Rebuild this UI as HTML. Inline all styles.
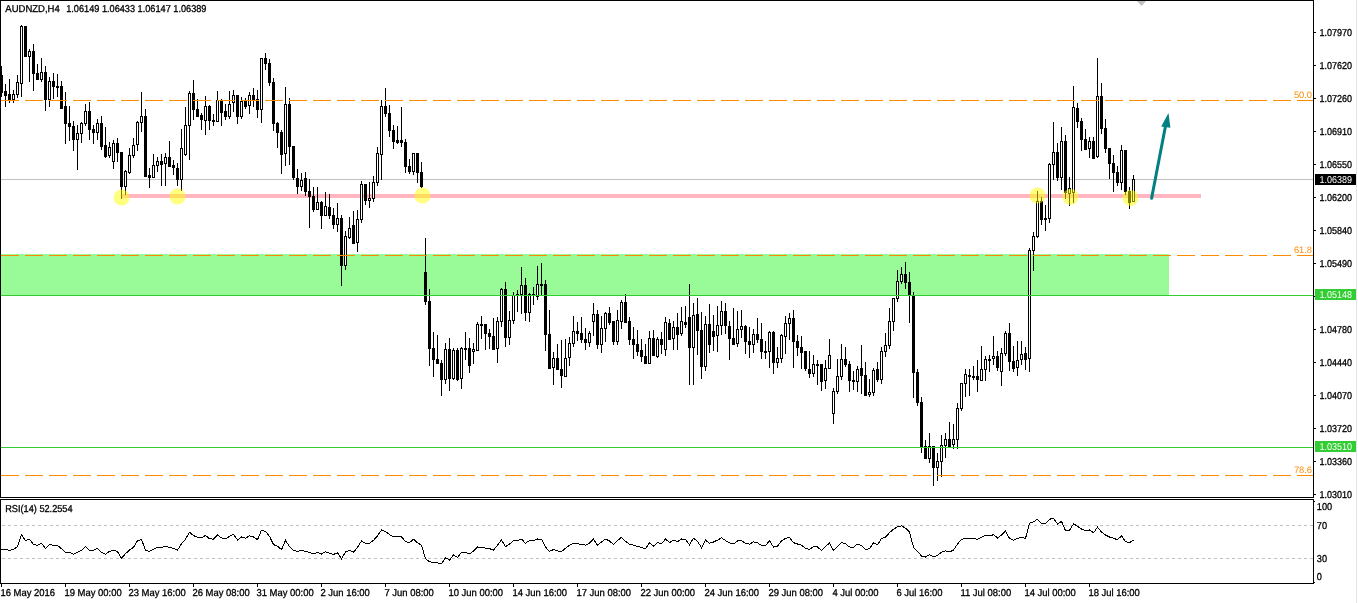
<!DOCTYPE html><html><head><meta charset="utf-8"><style>html,body{margin:0;padding:0;background:#fff;width:1358px;height:603px;overflow:hidden}svg{display:block}text{font-family:"Liberation Sans",Arial,sans-serif;font-size:9.3px;fill:#000;shape-rendering:auto;text-rendering:geometricPrecision;stroke:#000;stroke-width:0.3px}</style></head><body><svg width="1358" height="603" viewBox="0 0 1358 603" shape-rendering="crispEdges"><rect x="0" y="0" width="1358" height="603" fill="#fff"/><rect x="1" y="254" width="1168" height="41" fill="#98FB98"/><rect x="122" y="194" width="1079" height="4" fill="#FFB6C1"/><rect x="1" y="179" width="1312" height="1" fill="#C0C0C0"/><path d="M1 66V97M5 84V107M9 79V103M13 90V103M17 75V98M21 25V97M25 26V57M29 49V82M33 44V91M37 64V80M41 58V82M45 66V111M49 77V107M53 73V99M57 74V97M61 81V109M65 92V144M69 106V141M73 121V151M77 125V170M81 122V143M85 104V126M89 102V140M93 125V144M97 119V140M101 116V150M105 127V158M109 142V158M113 140V169M117 138V162M121 152V199M125 170V195M129 148V174M133 138V158M137 121V151M141 92V132M145 109V177M149 168V188M153 154V178M157 157V172M161 154V186M165 153V186M169 141V167M173 160V175M177 163V186M181 129V191M185 107V156M189 91V160M193 80V120M197 99V117M201 113V130M205 96V135M209 105V130M213 114V126M217 91V122M221 99V126M225 104V120M229 91V119M233 90V112M237 95V124M241 97V119M245 98V109M249 92V114M253 88V107M257 90V118M261 58V123M265 53V70M269 59V86M273 78V131M277 122V148M281 130V174M285 87V166M289 98V165M293 146V180M297 169V194M301 173V191M305 172V196M309 179V228M313 187V212M317 187V210M321 201V229M325 192V216M329 194V219M333 208V229M337 203V232M341 215V286M345 231V270M349 217V239M353 211V244M357 210V252M361 181V223M365 184V205M369 182V208M373 176V202M377 147V186M381 100V180M385 88V117M389 105V137M393 125V149M397 126V144M401 107V147M405 139V173M409 159V174M413 153V175M417 153V183M421 162V188M425 238V305M429 289V366M433 332V377M437 335V364M441 360V396M445 343V384M449 338V391M453 348V380M457 348V381M461 347V389M465 332V360M469 338V373M473 343V364M477 322V351M481 316V339M485 324V350M489 329V349M493 318V350M497 317V363M501 288V327M505 282V347M509 311V345M513 292V324M517 290V312M521 267V314M525 278V321M529 293V322M533 287V305M537 266V300M541 263V296M545 280V351M549 310V369M553 352V385M557 344V370M561 340V388M565 339V377M569 337V366M573 316V347M577 322V341M581 317V343M585 328V350M589 331V347M593 303V336M597 310V349M601 316V353M605 312V342M609 307V325M613 321V345M617 310V345M621 300V329M625 294V323M629 317V345M633 327V359M637 330V356M641 339V362M645 344V364M649 331V364M653 330V356M657 337V358M661 332V354M665 317V356M669 319V340M673 321V350M677 313V350M681 307V336M685 306V328M689 284V385M693 303V385M697 298V355M701 312V379M705 316V371M709 304V353M713 315V351M717 306V352M721 301V335M725 303V334M729 321V360M733 308V345M737 311V347M741 310V338M745 325V354M749 327V358M753 329V353M757 318V343M761 323V359M765 341V359M769 331V368M773 331V374M777 347V368M781 334V363M785 316V354M789 313V340M793 310V368M797 335V356M801 336V369M805 351V371M809 351V378M813 355V377M817 360V385M821 364V391M825 360V389M829 339V369M833 388V424M837 359V394M841 344V380M845 347V367M849 361V392M853 371V390M857 366V392M861 345V394M865 362V396M869 379V397M873 368V396M877 362V382M881 347V384M885 333V357M889 308V349M893 298V331M897 270V302M901 267V284M905 262V289M909 272V323M913 292V398M917 369V406M921 397V453M925 440V459M929 433V463M933 446V486M937 453V481M941 435V477M945 433V458M949 422V448M953 424V449M957 403V449M961 383V411M965 369V397M969 369V396M973 366V380M977 360V392M981 346V381M985 356V381M989 355V372M993 336V365M997 351V371M1001 348V386M1005 331V356M1009 323V371M1013 346V372M1017 341V376M1021 341V365M1025 347V370M1029 248V372M1033 232V271M1037 191V238M1041 197V225M1045 205V231M1049 163V223M1053 122V180M1057 143V181M1061 127V190M1065 135V199M1069 177V206M1073 86V203M1077 103V128M1081 118V151M1085 129V150M1089 137V158M1093 137V159M1097 58V158M1101 83V134M1105 119V153M1109 148V179M1113 155V192M1117 166V186M1121 145V190M1125 150V195M1129 187V209M1133 175V202" stroke="#000" stroke-width="1" fill="none" transform="translate(0.5,0)"/><path d="M0 75h3v18h-3zM4 91h3v5h-3zM8 94h3v7h-3zM12 94h3v6h-3zM16 82h3v13h-3zM20 26h3v58h-3zM24 26h3v31h-3zM28 51h3v6h-3zM32 51h3v23h-3zM36 73h3v7h-3zM40 72h3v8h-3zM44 72h3v28h-3zM48 81h3v19h-3zM52 81h3v6h-3zM56 86h3v2h-3zM60 86h3v23h-3zM64 106h3v18h-3zM68 123h3v4h-3zM72 126h3v14h-3zM76 133h3v7h-3zM80 123h3v11h-3zM84 111h3v13h-3zM88 111h3v19h-3zM92 129h3v4h-3zM96 123h3v10h-3zM100 123h3v24h-3zM104 145h3v12h-3zM108 147h3v9h-3zM112 143h3v19h-3zM116 143h3v10h-3zM120 152h3v35h-3zM124 171h3v16h-3zM128 155h3v18h-3zM132 145h3v11h-3zM136 122h3v23h-3zM140 116h3v7h-3zM144 116h3v61h-3zM148 175h3v3h-3zM152 165h3v13h-3zM156 161h3v5h-3zM160 161h3v4h-3zM164 157h3v7h-3zM168 157h3v10h-3zM172 165h3v3h-3zM176 168h3v12h-3zM180 148h3v32h-3zM184 125h3v30h-3zM188 93h3v33h-3zM192 93h3v17h-3zM196 109h3v8h-3zM200 115h3v5h-3zM204 106h3v15h-3zM208 106h3v15h-3zM212 120h3v2h-3zM216 100h3v22h-3zM220 100h3v13h-3zM224 111h3v6h-3zM228 104h3v13h-3zM232 95h3v8h-3zM236 95h3v22h-3zM240 101h3v16h-3zM244 101h3v6h-3zM248 95h3v11h-3zM252 95h3v5h-3zM256 99h3v11h-3zM260 58h3v52h-3zM264 58h3v6h-3zM268 63h3v20h-3zM272 82h3v42h-3zM276 123h3v10h-3zM280 132h3v23h-3zM284 104h3v50h-3zM288 104h3v43h-3zM292 146h3v32h-3zM296 178h3v9h-3zM300 180h3v7h-3zM304 178h3v14h-3zM308 191h3v6h-3zM312 196h3v14h-3zM316 202h3v8h-3zM320 202h3v14h-3zM324 206h3v10h-3zM328 207h3v9h-3zM332 215h3v10h-3zM336 218h3v7h-3zM340 218h3v48h-3zM344 236h3v30h-3zM348 228h3v10h-3zM352 225h3v19h-3zM356 219h3v24h-3zM360 184h3v36h-3zM364 184h3v17h-3zM368 198h3v3h-3zM372 182h3v17h-3zM376 153h3v30h-3zM380 106h3v49h-3zM384 106h3v8h-3zM388 113h3v18h-3zM392 130h3v12h-3zM396 140h3v3h-3zM400 140h3v3h-3zM404 142h3v25h-3zM408 166h3v6h-3zM412 153h3v19h-3zM416 153h3v20h-3zM420 172h3v15h-3zM424 272h3v30h-3zM428 301h3v48h-3zM432 348h3v12h-3zM436 359h3v5h-3zM440 363h3v17h-3zM444 349h3v31h-3zM448 349h3v30h-3zM452 350h3v29h-3zM456 350h3v30h-3zM460 348h3v31h-3zM464 348h3v2h-3zM468 348h3v18h-3zM472 349h3v3h-3zM476 324h3v27h-3zM480 324h3v2h-3zM484 324h3v10h-3zM488 333h3v4h-3zM492 336h3v14h-3zM496 321h3v28h-3zM500 289h3v33h-3zM504 289h3v49h-3zM508 320h3v18h-3zM512 295h3v26h-3zM516 294h3v2h-3zM520 285h3v10h-3zM524 285h3v28h-3zM528 294h3v19h-3zM532 294h3v2h-3zM536 284h3v13h-3zM540 284h3v2h-3zM544 284h3v51h-3zM548 334h3v35h-3zM552 358h3v10h-3zM556 358h3v12h-3zM560 369h3v7h-3zM564 358h3v19h-3zM568 343h3v15h-3zM572 331h3v13h-3zM576 331h3v3h-3zM580 333h3v7h-3zM584 339h3v4h-3zM588 333h3v10h-3zM592 314h3v8h-3zM596 314h3v31h-3zM600 328h3v17h-3zM604 313h3v16h-3zM608 313h3v10h-3zM612 321h3v21h-3zM616 320h3v22h-3zM620 302h3v20h-3zM624 302h3v21h-3zM628 321h3v19h-3zM632 339h3v6h-3zM636 344h3v8h-3zM640 350h3v7h-3zM644 356h3v8h-3zM648 338h3v26h-3zM652 338h3v18h-3zM656 339h3v18h-3zM660 339h3v6h-3zM664 322h3v28h-3zM668 323h3v17h-3zM672 327h3v12h-3zM676 327h3v8h-3zM680 321h3v13h-3zM684 322h3v3h-3zM688 317h3v31h-3zM692 315h3v33h-3zM696 314h3v17h-3zM700 330h3v37h-3zM704 324h3v43h-3zM708 324h3v21h-3zM712 331h3v6h-3zM716 325h3v11h-3zM720 311h3v15h-3zM724 311h3v15h-3zM728 326h3v13h-3zM732 338h3v7h-3zM736 329h3v15h-3zM740 326h3v4h-3zM744 326h3v16h-3zM748 341h3v4h-3zM752 334h3v11h-3zM756 334h3v6h-3zM760 339h3v13h-3zM764 351h3v2h-3zM768 332h3v20h-3zM772 332h3v31h-3zM776 358h3v5h-3zM780 335h3v24h-3zM784 323h3v14h-3zM788 318h3v6h-3zM792 318h3v24h-3zM796 341h3v7h-3zM800 347h3v6h-3zM804 351h3v18h-3zM808 369h3v5h-3zM812 364h3v10h-3zM816 364h3v2h-3zM820 364h3v18h-3zM824 368h3v13h-3zM828 355h3v14h-3zM832 391h3v23h-3zM836 376h3v16h-3zM840 359h3v18h-3zM844 359h3v6h-3zM848 364h3v17h-3zM852 380h3v2h-3zM856 369h3v13h-3zM860 368h3v8h-3zM864 375h3v21h-3zM868 392h3v3h-3zM872 370h3v23h-3zM876 369h3v11h-3zM880 351h3v29h-3zM884 345h3v7h-3zM888 321h3v25h-3zM892 298h3v24h-3zM896 281h3v18h-3zM900 274h3v8h-3zM904 274h3v9h-3zM908 282h3v14h-3zM912 295h3v78h-3zM916 372h3v31h-3zM920 402h3v46h-3zM924 446h3v13h-3zM928 446h3v13h-3zM932 446h3v22h-3zM936 461h3v7h-3zM940 445h3v17h-3zM944 439h3v7h-3zM948 439h3v9h-3zM952 439h3v6h-3zM956 408h3v32h-3zM960 383h3v26h-3zM964 374h3v10h-3zM968 375h3v2h-3zM972 376h3v2h-3zM976 376h3v4h-3zM980 369h3v12h-3zM984 359h3v11h-3zM988 359h3v2h-3zM992 356h3v3h-3zM996 356h3v12h-3zM1000 353h3v19h-3zM1004 333h3v21h-3zM1008 333h3v29h-3zM1012 361h3v8h-3zM1016 360h3v8h-3zM1020 354h3v6h-3zM1024 353h3v7h-3zM1028 250h3v109h-3zM1032 236h3v15h-3zM1036 201h3v36h-3zM1040 201h3v19h-3zM1044 218h3v2h-3zM1048 164h3v55h-3zM1052 152h3v13h-3zM1056 152h3v26h-3zM1060 141h3v37h-3zM1064 141h3v52h-3zM1068 188h3v6h-3zM1072 107h3v86h-3zM1076 108h3v14h-3zM1080 121h3v19h-3zM1084 139h3v11h-3zM1088 141h3v8h-3zM1092 141h3v18h-3zM1096 96h3v61h-3zM1100 96h3v33h-3zM1104 128h3v21h-3zM1108 148h3v16h-3zM1112 163h3v10h-3zM1116 172h3v11h-3zM1120 150h3v33h-3zM1124 150h3v42h-3zM1128 191h3v12h-3zM1132 179h3v23h-3z" fill="#000"/><path d="M13 95h1v4h-1zM17 83h1v11h-1zM21 27h1v56h-1zM29 52h1v4h-1zM41 73h1v6h-1zM49 82h1v17h-1zM77 134h1v5h-1zM81 124h1v9h-1zM85 112h1v11h-1zM97 124h1v8h-1zM109 148h1v7h-1zM113 144h1v17h-1zM125 172h1v14h-1zM129 156h1v16h-1zM133 146h1v9h-1zM137 123h1v21h-1zM141 117h1v5h-1zM153 166h1v11h-1zM157 162h1v3h-1zM165 158h1v5h-1zM181 149h1v30h-1zM185 126h1v28h-1zM189 94h1v31h-1zM205 107h1v13h-1zM217 101h1v20h-1zM229 105h1v11h-1zM233 96h1v6h-1zM241 102h1v14h-1zM249 96h1v9h-1zM261 59h1v50h-1zM285 105h1v48h-1zM301 181h1v5h-1zM317 203h1v6h-1zM325 207h1v8h-1zM337 219h1v5h-1zM345 237h1v28h-1zM349 229h1v8h-1zM357 220h1v22h-1zM361 185h1v34h-1zM369 199h1v1h-1zM373 183h1v15h-1zM377 154h1v28h-1zM381 107h1v47h-1zM413 154h1v17h-1zM445 350h1v29h-1zM453 351h1v27h-1zM461 349h1v29h-1zM473 350h1v1h-1zM477 325h1v25h-1zM497 322h1v26h-1zM501 290h1v31h-1zM509 321h1v16h-1zM513 296h1v24h-1zM521 286h1v8h-1zM529 295h1v17h-1zM537 285h1v11h-1zM553 359h1v8h-1zM565 359h1v17h-1zM569 344h1v13h-1zM573 332h1v11h-1zM589 334h1v8h-1zM593 315h1v6h-1zM601 329h1v15h-1zM605 314h1v14h-1zM617 321h1v20h-1zM621 303h1v18h-1zM649 339h1v24h-1zM657 340h1v16h-1zM665 323h1v26h-1zM673 328h1v10h-1zM681 322h1v11h-1zM693 316h1v31h-1zM705 325h1v41h-1zM717 326h1v9h-1zM721 312h1v13h-1zM737 330h1v13h-1zM741 327h1v2h-1zM753 335h1v9h-1zM769 333h1v18h-1zM777 359h1v3h-1zM781 336h1v22h-1zM785 324h1v12h-1zM789 319h1v4h-1zM813 365h1v8h-1zM825 369h1v11h-1zM829 356h1v12h-1zM833 392h1v21h-1zM837 377h1v14h-1zM841 360h1v16h-1zM857 370h1v11h-1zM869 393h1v1h-1zM873 371h1v21h-1zM881 352h1v27h-1zM885 346h1v5h-1zM889 322h1v23h-1zM893 299h1v22h-1zM897 282h1v16h-1zM901 275h1v6h-1zM929 447h1v11h-1zM937 462h1v5h-1zM941 446h1v15h-1zM945 440h1v5h-1zM953 440h1v4h-1zM957 409h1v30h-1zM961 384h1v24h-1zM965 375h1v8h-1zM981 370h1v10h-1zM985 360h1v9h-1zM993 357h1v1h-1zM1001 354h1v17h-1zM1005 334h1v19h-1zM1017 361h1v6h-1zM1021 355h1v4h-1zM1029 251h1v107h-1zM1033 237h1v13h-1zM1037 202h1v34h-1zM1049 165h1v53h-1zM1053 153h1v11h-1zM1061 142h1v35h-1zM1069 189h1v4h-1zM1073 108h1v84h-1zM1089 142h1v6h-1zM1097 97h1v59h-1zM1121 151h1v31h-1zM1133 180h1v21h-1z" fill="#fff"/><line x1="1" y1="100.5" x2="1313" y2="100.5" stroke="#FF8C00" stroke-width="1" stroke-dasharray="18 6"/><line x1="1" y1="255.5" x2="1313" y2="255.5" stroke="#FF8C00" stroke-width="1" stroke-dasharray="18 6"/><line x1="1" y1="475.5" x2="1313" y2="475.5" stroke="#FF8C00" stroke-width="1" stroke-dasharray="18 6"/><rect x="1" y="295" width="1312" height="1" fill="#32CD32"/><rect x="1" y="447" width="1312" height="1" fill="#32CD32"/><text x="1312" y="98" text-anchor="end" style="fill:#FF8C00;stroke:none">50.0</text><text x="1312" y="253" text-anchor="end" style="fill:#FF8C00;stroke:none">61.8</text><text x="1312" y="473" text-anchor="end" style="fill:#FF8C00;stroke:none">78.6</text><circle cx="121.5" cy="197.5" r="8" fill="#FFFF00" fill-opacity="0.5" shape-rendering="auto"/><circle cx="177.5" cy="196.5" r="8" fill="#FFFF00" fill-opacity="0.5" shape-rendering="auto"/><circle cx="422.5" cy="195.5" r="8" fill="#FFFF00" fill-opacity="0.5" shape-rendering="auto"/><circle cx="1037.5" cy="195.5" r="8" fill="#FFFF00" fill-opacity="0.5" shape-rendering="auto"/><circle cx="1070.5" cy="197.0" r="8" fill="#FFFF00" fill-opacity="0.5" shape-rendering="auto"/><circle cx="1130.5" cy="198.0" r="8" fill="#FFFF00" fill-opacity="0.5" shape-rendering="auto"/><g shape-rendering="auto"><line x1="1151.6" y1="198.3" x2="1165.5" y2="126" stroke="#008080" stroke-width="3" stroke-linecap="round"/><polygon points="1168.5,113 1161.2,126.5 1170.4,127.8" fill="#008080"/></g><rect x="0" y="0" width="1314" height="1" fill="#000"/><rect x="0" y="0" width="1" height="498" fill="#000"/><rect x="1313" y="0" width="1" height="498" fill="#000"/><rect x="0" y="497" width="1314" height="1" fill="#000"/><rect x="1356" y="0" width="1" height="603" fill="#E3E3E3"/><rect x="1314" y="32" width="2" height="1" fill="#000"/><text x="1319.60" y="36.00" style="font-size:10px;" textLength="32.53" lengthAdjust="spacingAndGlyphs">1.07970</text><rect x="1314" y="65" width="2" height="1" fill="#000"/><text x="1319.60" y="69.00" style="font-size:10px;" textLength="32.53" lengthAdjust="spacingAndGlyphs">1.07620</text><rect x="1314" y="98" width="2" height="1" fill="#000"/><text x="1319.60" y="102.00" style="font-size:10px;" textLength="32.53" lengthAdjust="spacingAndGlyphs">1.07260</text><rect x="1314" y="131" width="2" height="1" fill="#000"/><text x="1319.60" y="135.00" style="font-size:10px;" textLength="32.53" lengthAdjust="spacingAndGlyphs">1.06910</text><rect x="1314" y="164" width="2" height="1" fill="#000"/><text x="1319.60" y="168.00" style="font-size:10px;" textLength="32.53" lengthAdjust="spacingAndGlyphs">1.06550</text><rect x="1314" y="197" width="2" height="1" fill="#000"/><text x="1319.60" y="201.00" style="font-size:10px;" textLength="32.53" lengthAdjust="spacingAndGlyphs">1.06200</text><rect x="1314" y="230" width="2" height="1" fill="#000"/><text x="1319.60" y="234.00" style="font-size:10px;" textLength="32.53" lengthAdjust="spacingAndGlyphs">1.05840</text><rect x="1314" y="263" width="2" height="1" fill="#000"/><text x="1319.60" y="267.00" style="font-size:10px;" textLength="32.53" lengthAdjust="spacingAndGlyphs">1.05490</text><rect x="1314" y="296" width="2" height="1" fill="#000"/><rect x="1314" y="329" width="2" height="1" fill="#000"/><text x="1319.60" y="333.00" style="font-size:10px;" textLength="32.53" lengthAdjust="spacingAndGlyphs">1.04780</text><rect x="1314" y="362" width="2" height="1" fill="#000"/><text x="1319.60" y="366.00" style="font-size:10px;" textLength="32.53" lengthAdjust="spacingAndGlyphs">1.04440</text><rect x="1314" y="395" width="2" height="1" fill="#000"/><text x="1319.60" y="399.00" style="font-size:10px;" textLength="32.53" lengthAdjust="spacingAndGlyphs">1.04070</text><rect x="1314" y="428" width="2" height="1" fill="#000"/><text x="1319.60" y="432.00" style="font-size:10px;" textLength="32.53" lengthAdjust="spacingAndGlyphs">1.03720</text><rect x="1314" y="461" width="2" height="1" fill="#000"/><text x="1319.60" y="465.00" style="font-size:10px;" textLength="32.53" lengthAdjust="spacingAndGlyphs">1.03360</text><rect x="1314" y="494" width="2" height="1" fill="#000"/><text x="1319.60" y="498.00" style="font-size:10px;" textLength="32.53" lengthAdjust="spacingAndGlyphs">1.03010</text><rect x="1315" y="174" width="41" height="11" fill="#000"/><text x="1319.60" y="183.00" style="font-size:10px;fill:#fff;stroke:none" textLength="32.53" lengthAdjust="spacingAndGlyphs">1.06389</text><rect x="1315" y="289" width="41" height="11" fill="#32CD32"/><text x="1319.60" y="298.00" style="font-size:10px;fill:#fff;stroke:none" textLength="32.53" lengthAdjust="spacingAndGlyphs">1.05148</text><rect x="1315" y="441" width="41" height="11" fill="#32CD32"/><text x="1319.60" y="450.00" style="font-size:10px;fill:#fff;stroke:none" textLength="32.53" lengthAdjust="spacingAndGlyphs">1.03510</text><text x="5.30" y="12.00" style="font-size:10px;" textLength="54.50" lengthAdjust="spacingAndGlyphs">AUDNZD,H4</text><text x="66.20" y="12.00" style="font-size:10px;" textLength="140.30" lengthAdjust="spacingAndGlyphs">1.06149 1.06433 1.06147 1.06389</text><rect x="0" y="499" width="1314" height="1" fill="#000"/><rect x="0" y="499" width="1" height="85" fill="#000"/><rect x="1313" y="499" width="1" height="85" fill="#000"/><rect x="0" y="583" width="1314" height="1" fill="#000"/><rect x="1314" y="501" width="1" height="1" fill="#000"/><rect x="1314" y="582" width="1" height="1" fill="#000"/><line x1="2" y1="525.5" x2="1313" y2="525.5" stroke="#C0C0C0" stroke-dasharray="3 3"/><line x1="2" y1="558.5" x2="1313" y2="558.5" stroke="#C0C0C0" stroke-dasharray="3 3"/><text x="5.20" y="512.00" style="font-size:10px;" textLength="67.40" lengthAdjust="spacingAndGlyphs">RSI(14) 52.2554</text><text x="1316.80" y="510.00" style="font-size:10px;" textLength="15.35" lengthAdjust="spacingAndGlyphs">100</text><text x="1316.80" y="529.00" style="font-size:10px;" textLength="10.23" lengthAdjust="spacingAndGlyphs">70</text><text x="1316.80" y="562.00" style="font-size:10px;" textLength="10.23" lengthAdjust="spacingAndGlyphs">30</text><text x="1316.80" y="580.00" style="font-size:10px;" textLength="5.12" lengthAdjust="spacingAndGlyphs">0</text><polyline points="1,549.4 1.5,549.4 5.5,549.4 9.5,550.4 13.5,549.4 17.5,546.8 21.5,534.9 25.5,540.4 29.5,539.2 33.5,544.4 37.5,545.3 41.5,543.3 45.5,548.5 49.5,544.4 53.5,545.3 57.5,545.3 61.5,548.8 65.5,552.3 69.5,552.3 73.5,554.3 77.5,552.3 81.5,550.2 85.5,546.5 89.5,550.2 93.5,550.2 97.5,548.2 101.5,552.3 105.5,554.3 109.5,551.4 113.5,550.2 117.5,551.7 121.5,558.4 125.5,553.7 129.5,550.0 133.5,547.3 137.5,540.7 141.5,539.5 145.5,550.2 149.5,551.4 153.5,549.1 157.5,547.3 161.5,547.3 165.5,546.4 169.5,547.3 173.5,548.5 177.5,550.0 181.5,543.9 185.5,539.2 189.5,532.3 193.5,535.6 197.5,537.2 201.5,537.9 205.5,535.4 209.5,538.8 213.5,539.1 217.5,534.9 221.5,537.9 225.5,538.9 229.5,536.3 233.5,534.5 237.5,540.0 241.5,536.9 245.5,538.2 249.5,535.8 253.5,537.0 257.5,539.7 261.5,530.1 265.5,531.4 269.5,536.3 273.5,544.6 277.5,546.2 281.5,549.7 285.5,540.4 289.5,546.6 293.5,550.4 297.5,551.4 301.5,550.3 305.5,551.6 309.5,552.3 313.5,553.9 317.5,552.3 321.5,554.0 325.5,551.9 329.5,553.1 333.5,554.4 337.5,552.8 341.5,558.8 345.5,552.0 349.5,550.2 353.5,552.3 357.5,547.2 361.5,540.9 365.5,543.5 369.5,543.2 373.5,540.4 377.5,535.8 381.5,530.0 385.5,531.4 389.5,534.6 393.5,536.7 397.5,536.9 401.5,536.9 405.5,541.6 409.5,542.6 413.5,539.2 417.5,542.8 421.5,545.3 425.5,558.6 429.5,561.8 433.5,562.5 437.5,562.8 441.5,563.8 445.5,557.8 449.5,560.0 453.5,555.0 457.5,557.4 461.5,552.2 465.5,552.3 469.5,553.9 473.5,551.1 477.5,547.0 481.5,547.1 485.5,548.2 489.5,548.6 493.5,550.3 497.5,545.1 501.5,539.9 505.5,546.7 509.5,544.1 513.5,540.5 517.5,540.5 521.5,539.1 525.5,543.3 529.5,540.5 533.5,540.7 537.5,539.0 541.5,539.1 545.5,547.1 549.5,551.4 553.5,549.5 557.5,550.9 561.5,551.7 565.5,548.2 569.5,545.3 573.5,543.1 577.5,543.5 581.5,544.6 585.5,545.1 589.5,543.1 593.5,539.2 597.5,545.1 601.5,541.9 605.5,539.1 609.5,540.9 613.5,544.6 617.5,540.5 621.5,537.3 625.5,541.3 629.5,544.3 633.5,545.2 637.5,546.5 641.5,547.4 645.5,548.7 649.5,542.8 653.5,546.1 657.5,542.6 661.5,543.6 665.5,539.0 669.5,542.6 673.5,540.2 677.5,541.7 681.5,539.0 685.5,539.7 689.5,544.7 693.5,538.2 697.5,541.3 701.5,547.6 705.5,540.1 709.5,543.3 713.5,542.0 717.5,540.1 721.5,537.9 725.5,540.5 729.5,542.8 733.5,543.9 737.5,541.0 741.5,540.4 745.5,543.5 749.5,544.1 753.5,541.8 757.5,542.9 761.5,545.5 765.5,545.7 769.5,540.7 773.5,547.1 777.5,546.1 781.5,540.8 785.5,538.4 789.5,537.4 793.5,542.7 797.5,544.0 801.5,545.1 805.5,548.3 809.5,549.3 813.5,546.8 817.5,547.0 821.5,550.5 825.5,546.6 829.5,543.0 833.5,550.5 837.5,546.6 841.5,542.6 845.5,543.7 849.5,547.0 853.5,547.2 857.5,544.1 861.5,545.4 865.5,549.6 869.5,548.7 873.5,542.8 877.5,544.9 881.5,538.4 885.5,537.2 889.5,532.7 893.5,529.1 897.5,526.8 901.5,525.9 905.5,528.2 909.5,531.9 913.5,547.3 917.5,551.2 921.5,556.0 925.5,557.1 929.5,554.6 933.5,556.7 937.5,555.5 941.5,552.1 945.5,550.9 949.5,551.9 953.5,550.1 957.5,543.9 961.5,539.6 965.5,538.2 969.5,538.6 973.5,538.8 977.5,539.2 981.5,537.3 985.5,535.4 989.5,535.6 993.5,534.8 997.5,537.9 1001.5,534.9 1005.5,531.1 1009.5,538.5 1013.5,540.2 1017.5,538.5 1021.5,537.2 1025.5,538.5 1029.5,523.1 1033.5,521.9 1037.5,519.2 1041.5,523.4 1045.5,523.4 1049.5,519.2 1053.5,518.4 1057.5,524.0 1061.5,521.3 1065.5,530.7 1069.5,530.3 1073.5,523.9 1077.5,526.2 1081.5,529.1 1085.5,530.7 1089.5,529.9 1093.5,532.8 1097.5,527.2 1101.5,532.1 1105.5,535.0 1109.5,537.0 1113.5,538.3 1117.5,539.7 1121.5,535.9 1125.5,541.5 1129.5,542.8 1133.5,539.9" fill="none" stroke="#000" stroke-width="1" shape-rendering="crispEdges"/><rect x="1" y="584" width="1" height="3" fill="#000"/><text x="0.40" y="596.00" style="font-size:10px;" textLength="54.64" lengthAdjust="spacingAndGlyphs">16 May 2016</text><rect x="65" y="584" width="1" height="3" fill="#000"/><text x="64.40" y="596.00" style="font-size:10px;" textLength="57.26" lengthAdjust="spacingAndGlyphs">19 May 00:00</text><rect x="129" y="584" width="1" height="3" fill="#000"/><text x="128.40" y="596.00" style="font-size:10px;" textLength="57.26" lengthAdjust="spacingAndGlyphs">23 May 16:00</text><rect x="193" y="584" width="1" height="3" fill="#000"/><text x="192.40" y="596.00" style="font-size:10px;" textLength="57.26" lengthAdjust="spacingAndGlyphs">26 May 08:00</text><rect x="257" y="584" width="1" height="3" fill="#000"/><text x="256.40" y="596.00" style="font-size:10px;" textLength="57.26" lengthAdjust="spacingAndGlyphs">31 May 00:00</text><rect x="321" y="584" width="1" height="3" fill="#000"/><text x="320.40" y="596.00" style="font-size:10px;" textLength="49.39" lengthAdjust="spacingAndGlyphs">2 Jun 16:00</text><rect x="385" y="584" width="1" height="3" fill="#000"/><text x="384.40" y="596.00" style="font-size:10px;" textLength="49.39" lengthAdjust="spacingAndGlyphs">7 Jun 08:00</text><rect x="449" y="584" width="1" height="3" fill="#000"/><text x="448.40" y="596.00" style="font-size:10px;" textLength="54.65" lengthAdjust="spacingAndGlyphs">10 Jun 00:00</text><rect x="513" y="584" width="1" height="3" fill="#000"/><text x="512.40" y="596.00" style="font-size:10px;" textLength="54.65" lengthAdjust="spacingAndGlyphs">14 Jun 16:00</text><rect x="577" y="584" width="1" height="3" fill="#000"/><text x="576.40" y="596.00" style="font-size:10px;" textLength="54.65" lengthAdjust="spacingAndGlyphs">17 Jun 08:00</text><rect x="641" y="584" width="1" height="3" fill="#000"/><text x="640.40" y="596.00" style="font-size:10px;" textLength="54.65" lengthAdjust="spacingAndGlyphs">22 Jun 00:00</text><rect x="705" y="584" width="1" height="3" fill="#000"/><text x="704.40" y="596.00" style="font-size:10px;" textLength="54.65" lengthAdjust="spacingAndGlyphs">24 Jun 16:00</text><rect x="769" y="584" width="1" height="3" fill="#000"/><text x="768.40" y="596.00" style="font-size:10px;" textLength="54.65" lengthAdjust="spacingAndGlyphs">29 Jun 08:00</text><rect x="833" y="584" width="1" height="3" fill="#000"/><text x="832.40" y="596.00" style="font-size:10px;" textLength="46.24" lengthAdjust="spacingAndGlyphs">4 Jul 00:00</text><rect x="897" y="584" width="1" height="3" fill="#000"/><text x="896.40" y="596.00" style="font-size:10px;" textLength="46.24" lengthAdjust="spacingAndGlyphs">6 Jul 16:00</text><rect x="961" y="584" width="1" height="3" fill="#000"/><text x="960.40" y="596.00" style="font-size:10px;" textLength="50.79" lengthAdjust="spacingAndGlyphs">11 Jul 08:00</text><rect x="1025" y="584" width="1" height="3" fill="#000"/><text x="1024.40" y="596.00" style="font-size:10px;" textLength="51.49" lengthAdjust="spacingAndGlyphs">14 Jul 00:00</text><rect x="1089" y="584" width="1" height="3" fill="#000"/><text x="1088.40" y="596.00" style="font-size:10px;" textLength="51.49" lengthAdjust="spacingAndGlyphs">18 Jul 16:00</text><polygon points="1137,1 1146,1 1141.5,6" fill="#C0C0C0" shape-rendering="auto"/></svg></body></html>
